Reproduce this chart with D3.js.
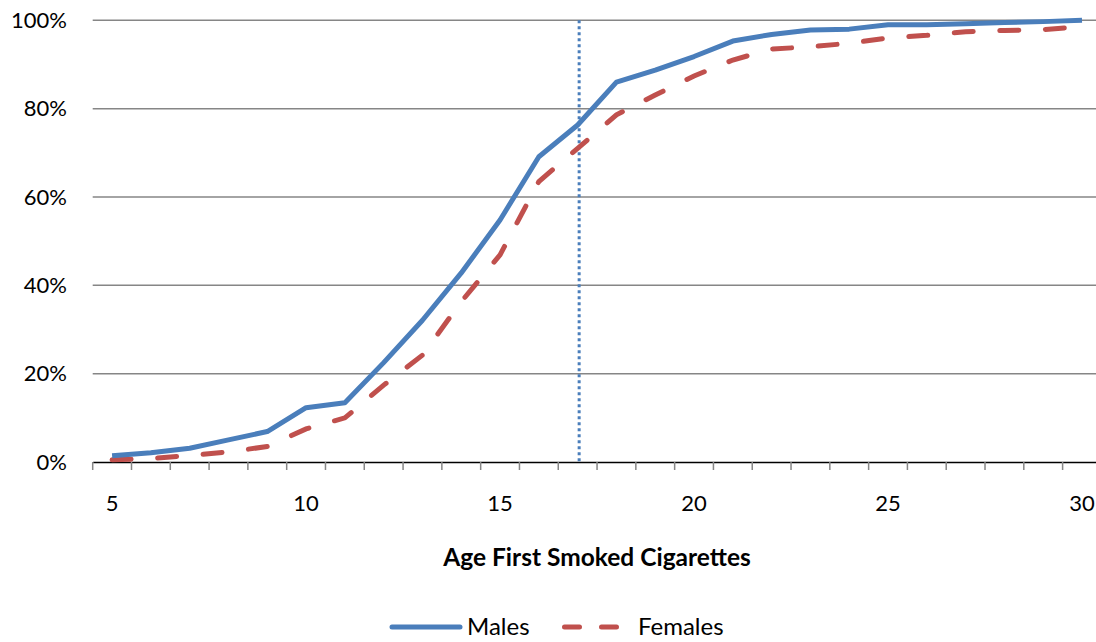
<!DOCTYPE html>
<html><head><meta charset="utf-8">
<script src="https://cdn.jsdelivr.net/npm/d3@7"></script>
<style>body{margin:0;background:#fff}svg{display:block;font-family:Lato,"Open Sans",sans-serif}</style>
</head><body><svg id="c" width="1096" height="642"></svg>
<script>
const ages = d3.range(5, 31);
const males = [1.4,2.1,3.1,5.0,6.9,12.3,13.4,22.5,32.1,42.8,54.8,69.1,76.3,86.0,88.7,91.8,95.3,96.8,97.8,98.0,99.0,99.0,99.2,99.5,99.7,100];
const females = [0.5,0.8,1.5,2.3,3.5,7.5,10.0,17.4,24.2,36.3,46.9,63.5,71.0,78.6,83.1,87.4,91.0,93.5,94.0,94.8,96.0,96.6,97.4,97.7,97.9,98.6];
const yTicks = [0,20,40,60,80,100];
const xLabels = [5,10,15,20,25,30];
const markerAge = 17;
const xTitle = "Age First Smoked Cigarettes";
const seriesNames = ["Males","Females"];

const svg = d3.select("#c");
const x = d3.scaleBand().domain(ages).range([92.7, 1101.4]);
const y = d3.scaleLinear().domain([0,100]).range([462, 20.3]);

// gridlines
svg.append("g").selectAll("line").data(yTicks.filter(d=>d>0)).join("line")
  .attr("x1",92.7).attr("x2",1101.4).attr("y1",d=>y(d)).attr("y2",d=>y(d))
  .attr("stroke","#868686").attr("stroke-width",1.5);

// y labels
svg.append("g").selectAll("text").data(yTicks).join("text")
  .attr("x",67).attr("y",d=>y(d)).attr("dy","0.35em").attr("text-anchor","end")
  .attr("font-size",22).attr("fill","#000").text(d=>d+"%");

// x axis
const xAxis = d3.axisBottom(x).tickSize(0).tickFormat("");
const ax = svg.append("g").attr("transform","translate(0,462)").call(xAxis);
ax.select(".domain").attr("stroke","#000").attr("stroke-width",1.5);
ax.selectAll(".tick").remove();
svg.append("g").selectAll("line").data(ages.concat([31])).join("line")
  .attr("x1",(d,i)=> i<ages.length ? x(d) : x(30)+x.bandwidth())
  .attr("x2",(d,i)=> i<ages.length ? x(d) : x(30)+x.bandwidth())
  .attr("y1",462).attr("y2",470).attr("stroke","#868686").attr("stroke-width",1.5);
svg.append("g").selectAll("text").data(xLabels).join("text")
  .attr("x",d=>x(d)+x.bandwidth()/2).attr("y",503).attr("dy","0.35em")
  .attr("text-anchor","middle").attr("font-size",22).text(d=>d);

svg.append("text").attr("x",597).attr("y",557).attr("dy","0.35em")
  .attr("text-anchor","middle").attr("font-size",24.5).attr("font-weight","bold").text(xTitle);

// marker line
svg.append("line").attr("x1",x(markerAge)+x.bandwidth()/2+1.5).attr("x2",x(markerAge)+x.bandwidth()/2+1.5)
  .attr("y1",y(100)).attr("y2",y(0)).attr("stroke","#4a7ebb").attr("stroke-width",3)
  .attr("stroke-dasharray","3,3");

const line = d3.line().x((d,i)=>x(ages[i])+x.bandwidth()/2).y(d=>y(d));
svg.append("path").datum(females).attr("d",line).attr("fill","none")
  .attr("stroke","#c0504d").attr("stroke-width",5).attr("stroke-linecap","round")
  .attr("stroke-dasharray","19,26.6");
svg.append("path").datum(males).attr("d",line).attr("fill","none")
  .attr("stroke","#4a7ebb").attr("stroke-width",5).attr("stroke-linejoin","round");

// legend
const ly = 627;
const lg = svg.append("g");
lg.append("line").attr("x1",392).attr("x2",460).attr("y1",ly).attr("y2",ly)
  .attr("stroke","#4a7ebb").attr("stroke-width",5).attr("stroke-linecap","round");
lg.append("text").attr("x",467).attr("y",ly).attr("dy","0.35em").attr("font-size",24).text(seriesNames[0]);
lg.append("line").attr("x1",564.5).attr("x2",617).attr("y1",ly).attr("y2",ly)
  .attr("stroke","#c0504d").attr("stroke-width",5).attr("stroke-linecap","round")
  .attr("stroke-dasharray","15,22");
lg.append("text").attr("x",638).attr("y",ly).attr("dy","0.35em").attr("font-size",24).text(seriesNames[1]);
</script></body></html>
